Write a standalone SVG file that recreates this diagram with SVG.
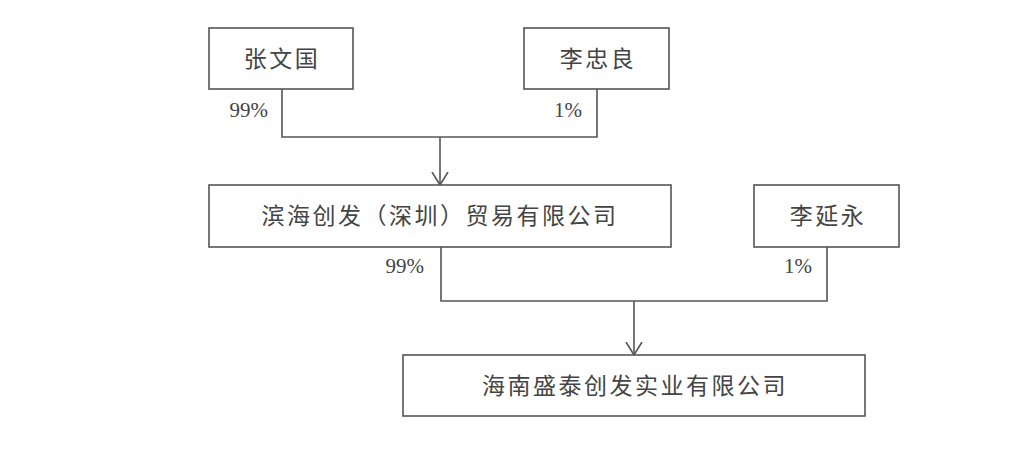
<svg xmlns="http://www.w3.org/2000/svg" width="1024" height="455" viewBox="0 0 1024 455">
<defs>
<style>
.box{fill:#ffffff;stroke:#555555;stroke-width:1.6}
.name{font-family:"Noto Sans CJK SC","Liberation Serif",serif;font-size:23px;fill:#444444;text-anchor:middle;letter-spacing:2.5px}
.pct{font-family:"Liberation Serif",serif;font-size:21px;fill:#444444;text-anchor:end}
.line{fill:none;stroke:#555555;stroke-width:1.6}
</style>
<marker id="arr" viewBox="0 0 14 18" markerWidth="14" markerHeight="18" refX="13" refY="9" orient="auto" markerUnits="userSpaceOnUse">
<path d="M0,1 L13,9 L0,17" fill="none" stroke="#555555" stroke-width="1.6"/>
</marker>
</defs>
<rect width="1024" height="455" fill="#ffffff"/>
<g id="connectors">
<path class="line" d="M282,89 V137 H597 V89"/>
<path class="line" d="M440,137 V185" marker-end="url(#arr)"/>
<path class="line" d="M441,247 V301 H827 V247"/>
<path class="line" d="M634,301 V355" marker-end="url(#arr)"/>
<text class="pct" x="268" y="117">99%</text>
<text class="pct" x="582" y="117">1%</text>
<text class="pct" x="424" y="273">99%</text>
<text class="pct" x="812" y="273">1%</text>
</g>
<g id="node-zhangwenguo">
<rect class="box" x="209" y="28" width="144" height="61"/>
<text class="name" x="282" y="67">张文国</text>
</g>
<g id="node-lizhongliang">
<rect class="box" x="524" y="28" width="145" height="61"/>
<text class="name" x="598" y="67">李忠良</text>
</g>
<g id="node-binhai">
<rect class="box" x="209" y="185" width="462" height="62"/>
<text class="name" x="440" y="224">滨海创发（深圳）贸易有限公司</text>
</g>
<g id="node-liyanyong">
<rect class="box" x="754" y="185" width="145" height="62"/>
<text class="name" x="828" y="224">李延永</text>
</g>
<g id="node-hainan">
<rect class="box" x="403" y="355" width="462" height="61"/>
<text class="name" x="635" y="394">海南盛泰创发实业有限公司</text>
</g>
</svg>
